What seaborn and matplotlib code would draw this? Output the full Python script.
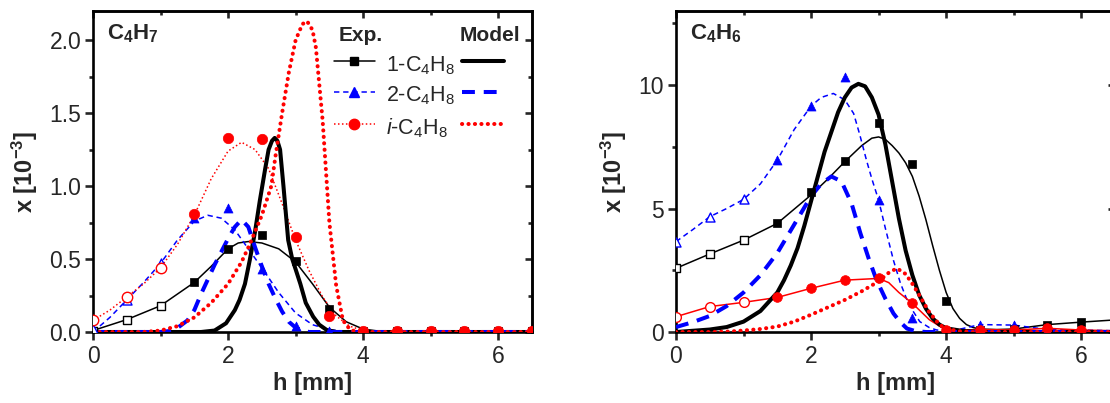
import numpy as np
import matplotlib
matplotlib.use("Agg")
import matplotlib.pyplot as plt
from matplotlib.lines import Line2D
from matplotlib.ticker import MultipleLocator
import seaborn as sns

# ---------------- data ----------------
h_exp = [0, 0.5, 1.0, 1.5, 2.0, 2.5, 3.0, 3.5, 4.0, 4.5, 5.0, 5.5, 6.0, 6.5]

# Panel A: C4H7
a_1c4h8_exp = [0.01, 0.085, 0.18, 0.34, 0.57, 0.665, 0.49, 0.16, 0.01, 0.005, 0.005, 0.005, 0.005, 0.005]
a_2c4h8_exp = [0.02, 0.22, 0.47, 0.78, 0.85, 0.43, 0.04, 0.005, 0.005, 0.01, 0.005, 0.01, 0.01, 0.01]
a_ic4h8_exp = [0.08, 0.24, 0.44, 0.81, 1.33, 1.32, 0.65, 0.11, 0.01, 0.01, 0.01, 0.01, 0.01, 0.01]

a_1c4h8_fit_h = [0, 0.5, 1.0, 1.5, 1.75, 2.0, 2.15, 2.3, 2.5, 2.75, 3.0, 3.25, 3.5, 3.75, 4.0, 4.25, 6.5]
a_1c4h8_fit_y = [0.01, 0.085, 0.18, 0.34, 0.45, 0.57, 0.61, 0.62, 0.61, 0.57, 0.48, 0.33, 0.17, 0.07, 0.02, 0.005, 0.0]
a_2c4h8_fit_h = [0, 0.25, 0.5, 0.75, 1.0, 1.25, 1.5, 1.7, 1.9, 2.1, 2.3, 2.5, 2.75, 3.0, 3.25, 3.5, 3.75, 4.0, 6.5]
a_2c4h8_fit_y = [0.0, 0.1, 0.22, 0.34, 0.47, 0.63, 0.76, 0.8, 0.78, 0.7, 0.57, 0.44, 0.27, 0.13, 0.05, 0.015, 0.005, 0, 0]
a_ic4h8_fit_h = [0, 0.25, 0.5, 0.75, 1.0, 1.25, 1.5, 1.75, 2.0, 2.2, 2.4, 2.6, 2.8, 3.0, 3.2, 3.4, 3.6, 3.8, 4.0, 4.3, 6.5]
a_ic4h8_fit_y = [0.08, 0.15, 0.24, 0.33, 0.44, 0.6, 0.8, 1.05, 1.24, 1.3, 1.25, 1.12, 0.88, 0.63, 0.42, 0.24, 0.11, 0.04, 0.01, 0, 0]

a_1c4h8_mod_h = [0, 1.6, 1.8, 1.97, 2.1, 2.17, 2.25, 2.32, 2.4, 2.47, 2.55, 2.6, 2.65, 2.69, 2.73,
                 2.77, 2.82, 2.89, 2.95, 3.0, 3.07, 3.15, 3.26, 3.35, 3.46, 3.6, 6.5]
a_1c4h8_mod_y = [0, 0, 0.01, 0.06, 0.15, 0.22, 0.33, 0.49, 0.69, 0.9, 1.12, 1.25, 1.31, 1.33, 1.31,
                 1.25, 1.0, 0.63, 0.5, 0.43, 0.33, 0.2, 0.105, 0.05, 0.014, 0, 0]
a_2c4h8_mod_h = [0, 1.0, 1.2, 1.4, 1.5, 1.6, 1.7, 1.8, 1.9, 2.0, 2.1, 2.2, 2.3, 2.4, 2.5, 2.6, 2.7, 2.8, 2.9, 3.0, 3.1, 3.2, 6.5]
a_2c4h8_mod_y = [0, 0, 0.01, 0.08, 0.15, 0.26, 0.36, 0.46, 0.55, 0.64, 0.72, 0.77, 0.72, 0.58, 0.45, 0.33, 0.23, 0.14, 0.07, 0.03, 0.01, 0, 0]
a_ic4h8_mod_h = [0, 0.75, 1.0, 1.25, 1.5, 1.75, 2.0, 2.2, 2.32, 2.5, 2.64, 2.7, 2.8, 2.9, 3.0, 3.1, 3.17,
                 3.25, 3.3, 3.4, 3.5, 3.6, 3.7, 3.8, 3.9, 6.5]
a_ic4h8_mod_y = [0, 0, 0.01, 0.04, 0.1, 0.2, 0.33, 0.48, 0.6, 0.8, 1.0, 1.2, 1.5, 1.78, 2.0, 2.11, 2.13,
                 2.07, 1.95, 1.45, 0.75, 0.32, 0.08, 0.02, 0, 0]

# Panel B: C4H6
b_1c4h8_exp = [2.58, 3.16, 3.72, 4.4, 5.65, 6.94, 8.47, 6.8, 1.27, 0.1, 0.12, 0.3, 0.4, 0.49]
b_2c4h8_exp = [3.66, 4.67, 5.37, 6.96, 9.15, 10.34, 5.34, 0.55, 0.05, 0.3, 0.28, 0.1, 0.08, 0.05]
b_ic4h8_exp = [0.62, 1.03, 1.2, 1.4, 1.77, 2.1, 2.17, 1.16, 0.07, 0.1, 0.08, 0.15, 0.08, 0.05]

b_1c4h8_fit_h = [0, 0.5, 1.0, 1.5, 2.0, 2.25, 2.5, 2.75, 2.9, 3.0, 3.1, 3.2, 3.3, 3.4, 3.5, 3.6, 3.7,
                 3.8, 3.9, 4.0, 4.1, 4.2, 4.3, 4.4, 4.5, 4.75, 5.0, 5.5, 6.0, 6.5, 6.9]
b_1c4h8_fit_y = [2.58, 3.16, 3.72, 4.4, 5.55, 6.2, 6.9, 7.55, 7.85, 7.9, 7.8, 7.55, 7.25, 6.85, 6.3, 5.5, 4.55,
                 3.5, 2.5, 1.6, 0.95, 0.55, 0.3, 0.18, 0.12, 0.1, 0.12, 0.3, 0.4, 0.49, 0.55]
b_2c4h8_fit_h = [0, 0.25, 0.5, 0.75, 1.0, 1.25, 1.5, 1.75, 2.0, 2.15, 2.33, 2.5, 2.63, 2.72, 2.82, 2.9,
                 3.0, 3.1, 3.22, 3.32, 3.42, 3.52, 3.61, 3.75, 3.86, 4.1, 4.5, 5.0, 5.5, 6.0, 6.5, 6.9]
b_2c4h8_fit_y = [3.66, 4.15, 4.67, 5.0, 5.37, 6.0, 6.96, 8.2, 9.15, 9.5, 9.66, 9.4, 8.85, 8.0, 6.96, 6.2,
                 5.34, 4.2, 2.9, 2.0, 1.3, 0.8, 0.42, 0.18, 0.08, 0.05, 0.3, 0.28, 0.1, 0.08, 0.05, 0.05]
b_ic4h8_fit_h = [0, 0.5, 1.0, 1.5, 2.0, 2.5, 3.0, 3.15, 3.3, 3.5, 3.75, 4.0, 4.5, 5.0, 5.5, 6.0, 6.5, 6.9]
b_ic4h8_fit_y = [0.62, 1.03, 1.2, 1.4, 1.77, 2.1, 2.17, 2.0, 1.6, 1.16, 0.5, 0.07, 0.1, 0.08, 0.15, 0.08, 0.05, 0.05]

b_1c4h8_mod_h = [0, 0.5, 0.75, 1.0, 1.25, 1.5, 1.6, 1.7, 1.8, 1.9, 2.0, 2.1, 2.2, 2.3, 2.4, 2.5, 2.6, 2.7,
                 2.8, 2.9, 3.0, 3.1, 3.2, 3.3, 3.4, 3.5, 3.6, 3.7, 3.8, 3.9, 4.0, 4.25, 4.5, 6.9]
b_1c4h8_mod_y = [0, 0.1, 0.2, 0.42, 0.85, 1.6, 2.1, 2.7, 3.4, 4.3, 5.3, 6.3, 7.3, 8.1, 8.9, 9.5, 9.9, 10.05,
                 9.95, 9.5, 8.8, 7.6, 6.1, 4.6, 3.3, 2.3, 1.5, 0.95, 0.55, 0.3, 0.15, 0.04, 0, 0]
b_2c4h8_mod_h = [0, 0.25, 0.5, 0.75, 1.0, 1.25, 1.5, 1.75, 2.0, 2.15, 2.3, 2.45, 2.6, 2.73, 2.85, 2.97,
                 3.1, 3.22, 3.32, 3.42, 3.55, 3.7, 6.9]
b_2c4h8_mod_y = [0.2, 0.4, 0.65, 1.05, 1.6, 2.3, 3.2, 4.35, 5.5, 6.0, 6.3, 6.1, 5.2, 4.0, 3.0, 2.1,
                 1.35, 0.75, 0.4, 0.14, 0.03, 0, 0]
b_ic4h8_mod_h = [0, 0.5, 0.8, 1.0, 1.25, 1.5, 1.75, 2.0, 2.25, 2.5, 2.75, 3.0, 3.15, 3.27, 3.4, 3.5,
                 3.6, 3.75, 3.9, 4.0, 4.2, 4.4, 6.9]
b_ic4h8_mod_y = [0, 0, 0.02, 0.06, 0.12, 0.22, 0.42, 0.7, 1.0, 1.3, 1.65, 2.05, 2.4, 2.58, 2.35, 1.95,
                 1.5, 0.8, 0.3, 0.13, 0.03, 0, 0]

species_labels = [r'$\mathit{1}$-C$_4$H$_8$', r'2-C$_4$H$_8$', r'$\mathit{i}$-C$_4$H$_8$']
panel_titles = [r'$\mathbf{C_4H_7}$', r'$\mathbf{C_4H_6}$']
xlabel = 'h [mm]'
ylabel = r'x [10$^{\mathbf{-3}}$]'

# ---------------- style ----------------
sns.set_style("white")
plt.rcParams['font.family'] = ['Liberation Sans', 'DejaVu Sans']
plt.rcParams['mathtext.fontset'] = 'custom'
plt.rcParams['mathtext.rm'] = 'Liberation Sans'
plt.rcParams['mathtext.it'] = 'Liberation Sans:italic'
plt.rcParams['mathtext.bf'] = 'Liberation Sans:bold'

BLACK, BLUE, RED = '#000000', '#0000FF', '#FF0000'
SPINE_W = 1.9
THIN = 1.1
THICK = 2.9

styles = {
    'k': dict(color=BLACK, marker='s', ms=6.0, fit_ls='-', mod_ls='-'),
    'b': dict(color=BLUE, marker='^', ms=6.5, fit_ls=(0, (3.5, 2.5)), mod_ls=(0, (3.2, 2.2))),
    'r': dict(color=RED, marker='o', ms=7.0, fit_ls=(0, (1, 1.6)), mod_ls=(0, (0.05, 1.55))),
}

fig = plt.figure(figsize=(11.1, 4.03), dpi=100)
W, H = 1110, 403
ax1 = fig.add_axes([93 / W, 71 / H, 439 / W, 321 / H])
ax2 = fig.add_axes([676 / W, 71 / H, 439 / W, 321 / H])


def draw_series(ax, key, h_fit, y_fit, y_exp, h_mod, y_mod, fit_ls=None, msize=None):
    st = styles[key]
    c = st['color']
    sns.lineplot(x=h_fit, y=y_fit, ax=ax, color=c, lw=THIN,
                 linestyle=fit_ls if fit_ls is not None else st['fit_ls'],
                 sort=False, estimator=None, zorder=3)
    sns.lineplot(x=h_mod, y=y_mod, ax=ax, color=c, lw=THICK, linestyle=st['mod_ls'],
                 sort=False, estimator=None, zorder=4)
    if key == 'r':
        ax.lines[-1].set_dash_capstyle('round')
    ms = msize if msize is not None else st['ms']
    s = ms ** 2
    hx = np.array(h_exp)
    ye = np.array(y_exp)
    open_mask = hx <= 1.0
    sns.scatterplot(x=hx[open_mask], y=ye[open_mask], ax=ax, marker=st['marker'], s=s,
                    facecolor='white', edgecolor=c, linewidth=1.0, zorder=5)
    sns.scatterplot(x=hx[~open_mask], y=ye[~open_mask], ax=ax, marker=st['marker'], s=s,
                    color=c, edgecolor=c, linewidth=0.5, zorder=5)


# panel A
draw_series(ax1, 'k', a_1c4h8_fit_h, a_1c4h8_fit_y, a_1c4h8_exp, a_1c4h8_mod_h, a_1c4h8_mod_y)
draw_series(ax1, 'b', a_2c4h8_fit_h, a_2c4h8_fit_y, a_2c4h8_exp, a_2c4h8_mod_h, a_2c4h8_mod_y)
draw_series(ax1, 'r', a_ic4h8_fit_h, a_ic4h8_fit_y, a_ic4h8_exp, a_ic4h8_mod_h, a_ic4h8_mod_y, msize=7.5)
# panel B
draw_series(ax2, 'k', b_1c4h8_fit_h, b_1c4h8_fit_y, b_1c4h8_exp, b_1c4h8_mod_h, b_1c4h8_mod_y)
draw_series(ax2, 'b', b_2c4h8_fit_h, b_2c4h8_fit_y, b_2c4h8_exp, b_2c4h8_mod_h, b_2c4h8_mod_y)
draw_series(ax2, 'r', b_ic4h8_fit_h, b_ic4h8_fit_y, b_ic4h8_exp, b_ic4h8_mod_h, b_ic4h8_mod_y,
            fit_ls='-', msize=7.0)

for ax, ylim, ymaj, ymin, title in [(ax1, 2.2, 0.5, 0.25, panel_titles[0]),
                                     (ax2, 13.0, 5, 2.5, panel_titles[1])]:
    ax.set_xlim(0, 6.5)
    ax.set_ylim(0, ylim)
    ax.xaxis.set_major_locator(MultipleLocator(2))
    ax.xaxis.set_minor_locator(MultipleLocator(1))
    ax.yaxis.set_major_locator(MultipleLocator(ymaj))
    ax.yaxis.set_minor_locator(MultipleLocator(ymin))
    if ax is ax1:
        ax.yaxis.set_major_formatter(matplotlib.ticker.FormatStrFormatter('%.1f'))
    for sp in ax.spines.values():
        sp.set_linewidth(SPINE_W)
        sp.set_color('black')
        sp.set_visible(True)
    ax.tick_params(which='major', direction='out', length=5.5, width=SPINE_W, labelsize=16.5,
                   left=True, bottom=True, top=False, right=False, pad=3)
    ax.tick_params(which='minor', direction='out', length=3.2, width=SPINE_W,
                   left=True, bottom=True, top=False, right=False)
    ax.tick_params(axis='x', which='major', pad=4)
    ax.set_xlabel(xlabel, fontsize=17, fontweight='bold', labelpad=3)
    ax.set_ylabel(ylabel, fontsize=17, fontweight='bold', labelpad=7)
    ax.text(0.032, 0.93, title, transform=ax.transAxes, fontsize=16, ha='left', va='center')
    sx = ax.secondary_xaxis('top')
    sx.xaxis.set_major_locator(MultipleLocator(2))
    sx.xaxis.set_minor_locator(MultipleLocator(1))
    sx.tick_params(which='major', direction='in', length=5, width=SPINE_W, labeltop=False)
    sx.tick_params(which='minor', direction='in', length=3, width=SPINE_W)
    sx.spines['top'].set_linewidth(SPINE_W)
    sy = ax.secondary_yaxis('right')
    sy.yaxis.set_major_locator(MultipleLocator(ymaj))
    sy.yaxis.set_minor_locator(MultipleLocator(ymin))
    sy.tick_params(which='major', direction='in', length=5, width=SPINE_W, labelright=False)
    sy.tick_params(which='minor', direction='in', length=3, width=SPINE_W)
    sy.spines['right'].set_linewidth(SPINE_W)

# legend in panel A (Exp. column with markers, Model column with lines)
tr = ax1.transAxes
ax1.text(0.61, 0.925, 'Exp.', transform=tr, fontsize=15, fontweight='bold', ha='center', va='center')
ax1.text(0.905, 0.925, 'Model', transform=tr, fontsize=15, fontweight='bold', ha='center', va='center')
row_y = [0.844, 0.749, 0.648]
for key, lab, ry in zip(['k', 'b', 'r'], species_labels, row_y):
    st = styles[key]
    ex = Line2D([0.549, 0.642], [ry, ry], transform=tr, color=st['color'], lw=THIN,
                linestyle=st['fit_ls'])
    mk = Line2D([0.595], [ry], transform=tr, color=st['color'], marker=st['marker'],
                ms=st['ms'] if key != 'r' else 7.5, linestyle='none')
    md = Line2D([0.84, 0.936], [ry, ry], transform=tr, color=st['color'], lw=THICK,
                linestyle=st['mod_ls'])
    if key == 'r':
        md.set_dash_capstyle('round')
    for art in (ex, mk, md):
        art.set_clip_on(False)
        ax1.add_line(art)
    ax1.text(0.667, ry - 0.014, lab, transform=tr, fontsize=15.5, ha='left', va='center')

fig.savefig('out.png', dpi=100, facecolor='white')
